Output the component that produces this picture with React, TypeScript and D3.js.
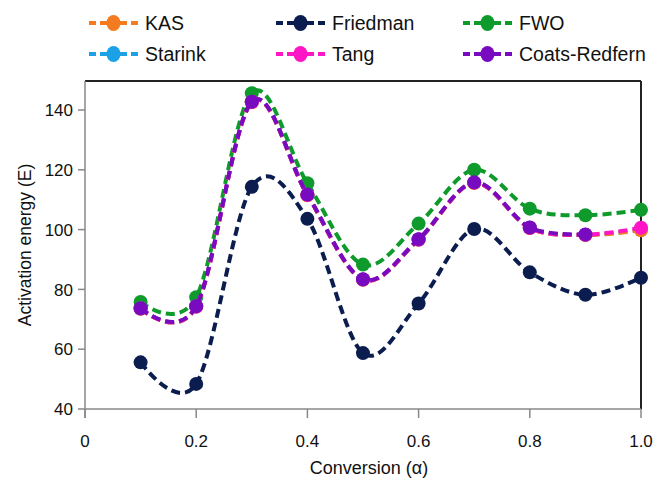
import React from "react";
import * as d3 from "d3";

// conversion values (x)
const conversion = [0.1, 0.2, 0.3, 0.4, 0.5, 0.6, 0.7, 0.8, 0.9, 1.0];

// activation energy per method
const kas = [73.5, 74.2, 142.6, 111.5, 83.2, 96.6, 115.6, 100.5, 98.2, 99.8];
const starink = [73.6, 74.3, 142.7, 111.6, 83.3, 96.7, 115.7, 100.6, 98.3, 100.0];
const friedman = [55.6, 48.4, 114.3, 103.6, 58.7, 75.3, 100.2, 85.7, 78.2, 83.9];
const fwo = [75.8, 77.4, 145.6, 115.5, 88.3, 102.0, 120.0, 107.0, 104.8, 106.6];
const tang = [73.6, 74.3, 142.7, 111.6, 83.3, 96.7, 115.7, 100.6, 98.3, 100.6];
const coatsRedfern = [73.7, 74.4, 142.8, 111.7, 83.4, 96.8, 115.8, 100.7, 98.4];

const xTicks = [0, 0.2, 0.4, 0.6, 0.8, 1.0];
const yTicks = [40, 60, 80, 100, 120, 140];

const series = [
  { name: "Friedman", values: friedman, color: "#0b1d4f" },
  { name: "FWO", values: fwo, color: "#0f9a2c" },
  { name: "Starink", values: starink, color: "#1ba1e6" },
  { name: "KAS", values: kas, color: "#f47b20" },
  { name: "Tang", values: tang, color: "#ff14c6" },
  { name: "Coats-Redfern", values: coatsRedfern, color: "#780bbf" },
];

const legendOrder = ["KAS", "Friedman", "FWO", "Starink", "Tang", "Coats-Redfern"];

const W = 657;
const H = 481;
const plot = { left: 85, right: 641, top: 81, bottom: 409 };
const font = "'Liberation Sans', Arial, Helvetica, sans-serif";

export default function App() {
  const x = d3.scaleLinear().domain([0, 1]).range([plot.left, plot.right]);
  const y = d3.scaleLinear().domain([40, 140]).range([plot.bottom, 110]);

  const line = d3
    .line<number>()
    .x((_, i) => x(conversion[i]))
    .y((d) => y(d))
    .curve(d3.curveCardinal.tension(0));

  const x0 = plot.left;
  const x1 = plot.right;
  const y0 = plot.bottom;
  const yTop = plot.top;

  return (
    <svg
      width={W}
      height={H}
      style={{ position: "absolute", left: 0, top: 0, display: "block", background: "#fff" }}
      fontFamily={font}
    >
      {/* frame: top and right borders */}
      <line x1={x0} x2={x1} y1={yTop} y2={yTop} stroke="#222" strokeWidth={2} />
      <line x1={x1} x2={x1} y1={yTop} y2={y0} stroke="#222" strokeWidth={2} />

      {/* y axis */}
      <line x1={x0} x2={x0} y1={yTop} y2={y0 + 9} stroke="#888" strokeWidth={1.5} />
      {yTicks.map((t) => (
        <g key={t}>
          <line x1={x0 - 7} x2={x0} y1={y(t)} y2={y(t)} stroke="#888" strokeWidth={1.5} />
          <text x={x0 - 12} y={y(t)} dy="0.36em" textAnchor="end" fontSize={17} fill="#111">
            {t}
          </text>
        </g>
      ))}

      {/* x axis */}
      <line x1={x0} x2={x1} y1={y0} y2={y0} stroke="#888" strokeWidth={1.5} />
      {xTicks.map((t) => (
        <g key={t}>
          <line x1={x(t)} x2={x(t)} y1={y0} y2={y0 + 9} stroke="#888" strokeWidth={1.5} />
          <text x={x(t)} y={y0 + 38} textAnchor="middle" fontSize={17} fill="#111">
            {t === 0 ? "0" : t.toFixed(1)}
          </text>
        </g>
      ))}

      <text x={(x0 + x1) / 2 + 6} y={H - 7} textAnchor="middle" fontSize={18} fill="#111">
        Conversion (α)
      </text>
      <text
        transform={`translate(31,${(yTop + y0) / 2}) rotate(-90)`}
        textAnchor="middle"
        fontSize={17.5}
        fill="#111"
      >
        Activation energy (E)
      </text>

      {/* series */}
      {series.map((s) => (
        <g key={s.name}>
          <path
            d={line(s.values) ?? ""}
            fill="none"
            stroke={s.color}
            strokeWidth={4}
            strokeDasharray="9,5"
          />
          {s.values.map((v, i) => (
            <circle key={i} cx={x(conversion[i])} cy={y(v)} r={7} fill={s.color} />
          ))}
        </g>
      ))}

      {/* legend */}
      {legendOrder.map((name, i) => {
        const s = series.find((d) => d.name === name)!;
        const col = i % 3;
        const row = Math.floor(i / 3);
        const lx = [89, 276, 463][col];
        const ly = [23, 54][row];
        return (
          <g key={name}>
            <line x1={lx} x2={lx + 18} y1={ly} y2={ly} stroke={s.color} strokeWidth={4} strokeDasharray="7,4" />
            <line x1={lx + 31} x2={lx + 49} y1={ly} y2={ly} stroke={s.color} strokeWidth={4} strokeDasharray="7,4" />
            <ellipse cx={lx + 24.5} cy={ly} rx={7} ry={8} fill={s.color} />
            <text x={lx + 56} y={ly} dy="0.36em" fontSize={19.5} fill="#111">
              {name}
            </text>
          </g>
        );
      })}
    </svg>
  );
}
